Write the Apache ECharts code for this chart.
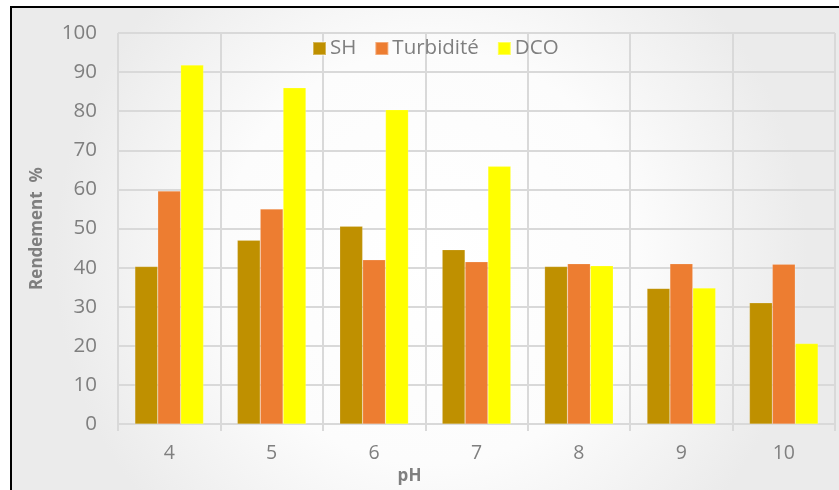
<!DOCTYPE html>
<html>
<head>
<meta charset="utf-8">
<script src="https://cdn.jsdelivr.net/npm/echarts@6/dist/echarts.min.js"></script>
<style>
html,body{margin:0;padding:0;background:#fff;}
#chart{width:839px;height:490px;}
</style>
</head>
<body>
<div id="chart"></div>
<script>
const categories = ['4', '5', '6', '7', '8', '9', '10'];
const seriesNames = ['SH', 'Turbidité', 'DCO'];
const shValues = [40.3, 47.0, 50.6, 44.6, 40.3, 34.7, 31.0];
const turbValues = [59.6, 55.0, 42.0, 41.5, 41.0, 41.0, 40.9];
const dcoValues = [91.8, 86.0, 80.4, 65.9, 40.5, 34.8, 20.6];
const colors = ['#bf9000', '#ed7d31', '#ffff00'];
const yTicks = [0, 10, 20, 30, 40, 50, 60, 70, 80, 90, 100];

const FONT = '"Open Sans", "Noto Sans", sans-serif';
const TXT = '#7f7f7f';
const chart = echarts.init(document.getElementById('chart'));
const dataSets = [shValues, turbValues, dcoValues];

chart.setOption({
  animation: false,
  graphic: [{
    type: 'rect',
    z: -10,
    silent: true,
    shape: { x: 11, y: 7, width: 840, height: 500 },
    style: {
      fill: new echarts.graphic.RadialGradient(0.5, 0.5, 0.75, [
        { offset: 0, color: '#ffffff' },
        { offset: 0.55, color: '#fcfcfc' },
        { offset: 1, color: '#ebebeb' }
      ]),
      stroke: '#000000',
      lineWidth: 2
    }
  }],
  legend: {
    left: 307,
    top: 33,
    itemWidth: 13,
    itemHeight: 13,
    itemGap: 18,
    icon: 'rect',
    textStyle: { color: TXT, fontSize: 20.5, fontFamily: FONT, padding: [0, 0, 0, -1] },
    data: seriesNames
  },
  grid: { left: 118, right: 4, top: 33, bottom: 63, containLabel: false },
  xAxis: {
    type: 'category',
    data: categories,
    name: 'pH',
    nameLocation: 'middle',
    nameGap: 40,
    nameTextStyle: { color: TXT, fontSize: 17, fontWeight: 'bold', fontFamily: FONT, padding: [0, 134, 0, 0] },
    axisLine: { lineStyle: { color: '#d9d9d9', width: 2 } },
    axisTick: { show: true, length: 7, lineStyle: { color: '#d9d9d9', width: 2 } },
    axisLabel: { color: TXT, fontSize: 19.5, fontFamily: FONT, margin: 19 },
    splitLine: { show: true, lineStyle: { color: '#d9d9d9', width: 2 } }
  },
  yAxis: {
    type: 'value',
    min: 0,
    max: 100,
    interval: 10,
    name: 'Rendement  %',
    nameLocation: 'middle',
    nameGap: 72,
    nameTextStyle: { color: TXT, fontSize: 17, fontWeight: 'bold', fontFamily: FONT },
    axisLine: { show: false },
    axisTick: { show: false },
    axisLabel: {
      color: TXT, fontSize: 20.5, fontFamily: FONT, margin: 21,
      formatter: v => yTicks.includes(v) ? String(v) : ''
    },
    splitLine: { lineStyle: { color: '#d9d9d9', width: 2 } }
  },
  series: seriesNames.map((n, i) => ({
    name: n,
    type: 'bar',
    data: dataSets[i],
    barGap: '0%',
    barCategoryGap: '33%',
    itemStyle: { color: colors[i], borderColor: 'rgba(255,255,255,0.35)', borderWidth: 0.5 }
  }))
});
</script>
</body>
</html>
